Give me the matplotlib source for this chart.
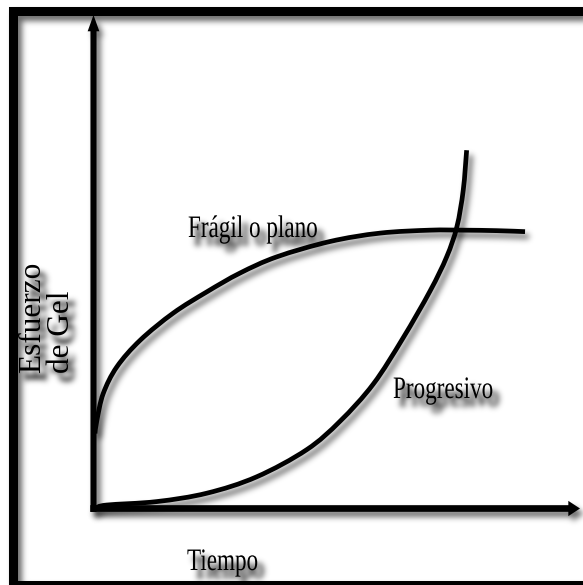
import matplotlib
matplotlib.use("Agg")
import numpy as np
import matplotlib.pyplot as plt
from matplotlib import patheffects
from matplotlib.patches import Rectangle, PathPatch
from matplotlib.path import Path
from matplotlib.transforms import Affine2D

W, H = 583, 585

# gel strength vs. time, both on a 0-100 scale
fragil_t = [0.3, 0.7, 2.0, 4.8, 9.6, 16.4, 23.3, 30.1, 37.7, 48.6, 58.9, 69.2, 76.0, 82.9, 88.7]
fragil_s = [15.2, 17.9, 23.3, 28.7, 34.1, 39.6, 43.9, 47.7, 51.0, 54.1, 55.8, 56.4, 56.4, 56.3, 56.1]

progresivo_t = [0.5, 2.7, 13.0, 23.3, 33.5, 43.8, 50.7, 57.5, 63.6, 69.2, 72.6, 74.7, 76.0, 76.7]
progresivo_s = [0.1, 0.7, 1.4, 3.1, 6.4, 11.9, 17.7, 25.2, 34.5, 44.1, 51.0, 57.1, 64.5, 72.6]

labels = ["Frágil o plano", "Progresivo"]
xlabel = "Tiempo"
ylabel = ["Esfuerzo", "de Gel"]


def blur(a, sigma):
    r = int(3 * sigma)
    k = np.exp(-np.arange(-r, r + 1) ** 2 / (2 * sigma ** 2))
    k /= k.sum()
    for axis in (0, 1):
        out = np.zeros_like(a)
        for i, w in enumerate(k):
            out += w * np.roll(a, i - r, axis=axis)
        a = out
    return a


class DropShadow:
    """agg filter: blurred, shifted grey copy of whatever the artist drew"""

    def __init__(self, sigma=3.0, alpha=0.5, dx=4, dy=5):
        self.sigma, self.alpha, self.dx, self.dy = sigma, alpha, dx, dy

    def __call__(self, im, dpi):
        pad = int(3 * self.sigma) + max(abs(self.dx), abs(self.dy)) + 2
        src = np.pad(im, [(pad, pad), (pad, pad), (0, 0)], "constant")
        a = np.clip(blur(src[..., 3], self.sigma) * self.alpha, 0, 1)
        a = np.roll(np.roll(a, self.dy, axis=0), self.dx, axis=1)
        out = np.zeros_like(src)
        out[..., 3] = a
        return out, -pad, -pad


class Squeeze(patheffects.AbstractPathEffect):
    """narrow the glyphs along the writing direction"""

    def __init__(self, sx=1.0):
        super().__init__()
        self.sx = sx

    def draw_path(self, renderer, gc, tpath, affine, rgbFace=None):
        renderer.draw_path(gc, tpath, Affine2D().scale(self.sx, 1) + affine, rgbFace)


def smooth(t, s):
    # Catmull-Rom spline through the points, written as cubic Bezier segments
    p = np.column_stack([t, s])
    n = len(p)
    verts, codes = [p[0]], [Path.MOVETO]
    for i in range(n - 1):
        a, b, c, d = p[max(i - 1, 0)], p[i], p[i + 1], p[min(i + 2, n - 1)]
        verts += [b + (c - a) / 6, c - (d - b) / 6, c]
        codes += [Path.CURVE4] * 3
    return Path(verts, codes)


def px(x, y):
    # pixel position from the top-left corner -> figure fraction
    return x / W, 1 - y / H


fig = plt.figure(figsize=(W / 100, H / 100), dpi=100)
fig.patch.set_facecolor("white")

line_shadow = DropShadow(sigma=3.0, alpha=0.6, dx=4, dy=5)
text_shadow = DropShadow(sigma=3.0, alpha=1.3, dx=6, dy=8)

# thick outer frame
x0, y0 = px(12.5, 584.5)
x1, y1 = px(584.5, 11)
for flt, z in [(line_shadow, 0.5), (None, 0.6)]:
    frame = Rectangle((x0, y0), x1 - x0, y1 - y0, transform=fig.transFigure,
                      fill=False, ec="black", lw=6.5, joinstyle="miter", zorder=z)
    frame.set_agg_filter(flt)
    fig.add_artist(frame)

left, bottom = px(93.5, 508.5)
right, top = px(580, 15)
ax = fig.add_axes([left, bottom, right - left, top - bottom])
ax.set_xlim(0, 100)
ax.set_ylim(0, 100)
ax.axis("off")

for flt, z in [(line_shadow, 1), (None, 2)]:
    # axes with arrow heads
    ya = ax.arrow(0, -0.7, 0, 100.7, width=1.25, head_width=2.4, head_length=3.3,
                  length_includes_head=True, fc="black", ec="none", clip_on=False, zorder=z)
    xa = ax.arrow(-0.65, 0, 100.65, 0, width=1.35, head_width=3.1, head_length=2.4,
                  length_includes_head=True, fc="black", ec="none", clip_on=False, zorder=z)
    ya.set_agg_filter(flt)
    xa.set_agg_filter(flt)

    for t, s in [(fragil_t, fragil_s), (progresivo_t, progresivo_s)]:
        curve = PathPatch(smooth(t, s), transform=ax.transData, fill=False, ec="black",
                          lw=3.4, capstyle="butt", joinstyle="round", clip_on=False, zorder=z)
        curve.set_agg_filter(flt)
        ax.add_patch(curve)

font = dict(family="Liberation Serif", size=22.5, color="black")
squeezed = [Squeeze(0.74)]

for flt, z in [(text_shadow, 2.5), (None, 3)]:
    texts = [
        fig.text(*px(188, 237), labels[0], ha="left", va="baseline",
                 path_effects=squeezed, zorder=z, **font),
        fig.text(*px(393, 398), labels[1], ha="left", va="baseline",
                 path_effects=squeezed, zorder=z, **font),
        fig.text(*px(187, 570), xlabel, ha="left", va="baseline",
                 path_effects=squeezed, zorder=z, **font),
        fig.text(*px(69, 373), "\n".join(ylabel), ha="left", va="baseline",
                 multialignment="left", linespacing=1.0, rotation=90,
                 rotation_mode="anchor", zorder=z, **font),
    ]
    for txt in texts:
        txt.set_agg_filter(flt)

fig.savefig("out.png", dpi=100, facecolor="white")
